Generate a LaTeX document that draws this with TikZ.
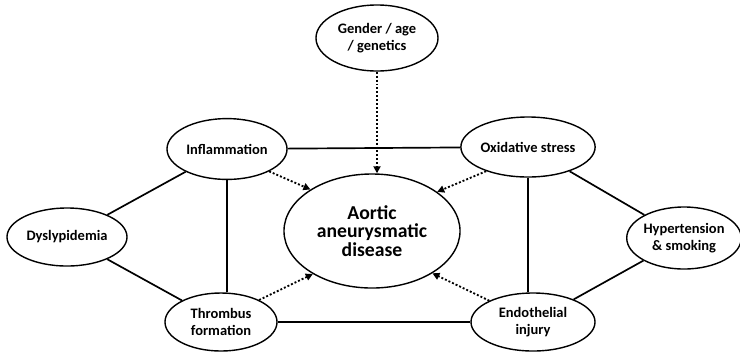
\documentclass[tikz,border=0pt]{standalone}
\usepackage{fontspec}
\setmainfont{Carlito}
\usetikzlibrary{arrows.meta,shapes.geometric}

\begin{document}
\begin{tikzpicture}[x=0.025cm,y=-0.025cm,>={Triangle[length=5pt,width=5pt]},
   every node/.style={font=\fontsize{10.3}{12}\selectfont\bfseries,align=center},
   factor/.style 2 args={ellipse,draw,line width=1pt,inner sep=0pt,
     minimum width=#1cm,minimum height=#2cm},
   link/.style={line width=1.2pt},
   effect/.style={->,line width=1.3pt,dash pattern=on 1.4pt off 1.4pt}]
  \useasboundingbox (0,0) rectangle (740,351);
  \node[factor={3.05}{1.65}] (gen) at (377,38) {Gender / age\\/ genetics};
  \node[factor={3.0}{1.52}] (infl) at (227,149) {Inflammation};
  \node[factor={2.95}{1.5}] (oxi) at (528,147) {Oxidative stress};
  \node[factor={4.4}{2.85},font=\fontsize{14}{13.2}\selectfont\bfseries] (aad) at (372,231)
    {Aortic\\aneurysmatic\\disease};
  \node[factor={3.0}{1.45}] (dys) at (67,237) {Dyslypidemia};
  \node[factor={2.8}{1.55}] (hyp) at (684,238) {Hypertension\\\& smoking};
  \node[factor={2.8}{1.45}] (thr) at (221,322) {Thrombus\\formation};
  \node[factor={3.1}{1.45}] (endo) at (533,322) {Endothelial\\injury};
  % solid links
  \draw[link] (infl) -- (oxi);
  \draw[link] (thr) -- (endo);
  \draw[link] (dys) -- (infl);
  \draw[link] (dys) -- (thr);
  \draw[link] (hyp) -- (oxi);
  \draw[link] (hyp) -- (endo);
  \draw[link] (infl.south) -- (infl.south |- thr.north);
  \draw[link] (oxi.south) -- (oxi.south |- endo.north);
  % dotted effects
  \draw[effect] (gen.south) -- (gen.south |- aad.north);
  \draw[effect] (infl.-28) -- (aad.146);
  \draw[effect] (oxi.-150) -- (aad.31);
  \draw[effect] (thr.30) -- (aad.-144);
  \draw[effect] (endo.154) -- (aad.-35);
\end{tikzpicture}
\end{document}
